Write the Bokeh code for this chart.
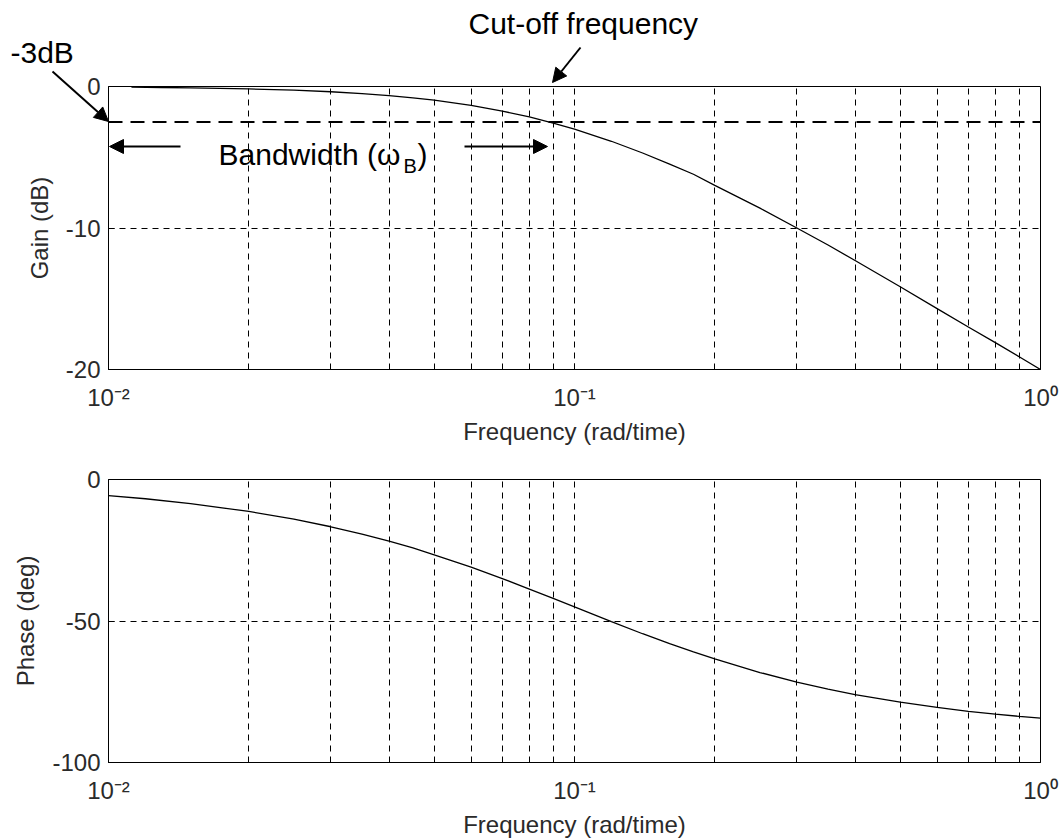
from bokeh.plotting import figure
from bokeh.models import Range1d, FixedTicker, Arrow, NormalHead, Label
from bokeh.layouts import column
from bokeh.embed import file_html
from bokeh.resources import INLINE

# ---- data ----
freq_gain = [0.0112, 0.013, 0.015, 0.02, 0.025, 0.03, 0.035, 0.04, 0.045, 0.05,
             0.06, 0.07, 0.08, 0.09, 0.1, 0.12, 0.14, 0.16, 0.18, 0.2,
             0.25, 0.3, 0.35, 0.4, 0.5, 0.6, 0.7, 0.8, 0.9, 1.0]
gain_db = [-0.05, -0.07, -0.10, -0.17, -0.26, -0.37, -0.50, -0.64, -0.80, -0.97,
           -1.34, -1.74, -2.15, -2.58, -3.01, -3.87, -4.70, -5.48, -6.20, -6.99,
           -8.6, -10.0, -11.2, -12.3, -14.15, -15.7, -17.0, -18.1, -19.1, -20.0]

freq_phase = [0.01, 0.012, 0.015, 0.02, 0.025, 0.03, 0.035, 0.04, 0.045, 0.05,
              0.06, 0.07, 0.08, 0.09, 0.1, 0.12, 0.14, 0.16, 0.18, 0.2,
              0.25, 0.3, 0.35, 0.4, 0.5, 0.6, 0.7, 0.8, 0.9, 1.0]
phase_deg = [-5.7, -6.8, -8.5, -11.3, -14.0, -16.7, -19.3, -21.8, -24.2, -26.6,
             -31.0, -35.0, -38.7, -42.0, -45.0, -50.2, -54.5, -58.0, -60.9, -63.4,
             -68.2, -71.6, -74.1, -76.0, -78.7, -80.5, -81.9, -82.9, -83.7, -84.3]

x_major = [0.01, 0.1, 1.0]
x_major_labels = ["10\u207b\u00b2", "10\u207b\u00b9", "10\u2070"]
x_minor = [0.02, 0.03, 0.04, 0.05, 0.06, 0.07, 0.08, 0.09,
           0.2, 0.3, 0.4, 0.5, 0.6, 0.7, 0.8, 0.9]
gain_ticks = [0, -10, -20]
gain_tick_labels = ["0", "-10", "-20"]
phase_ticks = [0, -50, -100]
phase_tick_labels = ["0", "-50", "-100"]
cutoff_level = -2.5

FONT = "Liberation Sans"
TXT = "#2a2a2a"
DASH = "6 5"

# ---- layout (pixels) ----
W = 1060
FX0, FX1 = 108, 1040          # plot box left/right
TOP_H = 449                   # height of the upper figure
G_TOP, G_BOT = 86, 369        # upper plot box top/bottom
DEC_PX = (FX1 - FX0) / 2.0    # pixels per decade


def make_fig(border_top, border_bottom, yticks, ylabels, ylabel):
    p = figure(x_axis_type="log", x_range=Range1d(x_major[0], x_major[-1]),
               y_range=Range1d(yticks[-1], yticks[0]),
               frame_width=FX1 - FX0, frame_height=G_BOT - G_TOP,
               min_border_left=FX0, min_border_right=W - FX1,
               min_border_top=border_top, min_border_bottom=border_bottom,
               output_backend="svg", toolbar_location=None)
    p.background_fill_color = "white"
    p.border_fill_color = "white"
    p.outline_line_color = "black"
    p.outline_line_width = 1

    p.xaxis.ticker = FixedTicker(ticks=x_major, minor_ticks=x_minor)
    p.xaxis.major_label_overrides = {v: s for v, s in zip(x_major, x_major_labels)}
    p.yaxis.ticker = FixedTicker(ticks=yticks)
    p.yaxis.major_label_overrides = {v: s for v, s in zip(yticks, ylabels)}
    for ax in (p.xaxis[0], p.yaxis[0]):
        ax.axis_line_color = "black"
        ax.major_tick_line_color = "black"
        ax.minor_tick_line_color = "black"
        ax.major_tick_in = 6
        ax.major_tick_out = 0
        ax.minor_tick_in = 3
        ax.minor_tick_out = 0
        ax.major_label_text_font = FONT
        ax.major_label_text_font_size = "24px"
        ax.major_label_text_color = TXT
        ax.axis_label_text_font = FONT
        ax.axis_label_text_font_size = "24px"
        ax.axis_label_text_font_style = "normal"
        ax.axis_label_text_color = TXT
    p.xaxis.major_label_standoff = 14
    p.xaxis.axis_label_standoff = 4
    p.yaxis.major_label_standoff = 8
    p.yaxis.axis_label_standoff = 10
    p.xaxis.axis_label = "Frequency (rad/time)"
    p.yaxis.axis_label = ylabel

    p.xgrid.grid_line_color = "black"
    p.xgrid.grid_line_dash = DASH
    p.xgrid.grid_line_width = 1
    p.xgrid.minor_grid_line_color = "black"
    p.xgrid.minor_grid_line_dash = DASH
    p.xgrid.minor_grid_line_width = 1
    p.ygrid.grid_line_color = "black"
    p.ygrid.grid_line_dash = DASH
    p.ygrid.grid_line_width = 1
    return p


# ---- top: gain ----
p1 = make_fig(G_TOP, TOP_H - G_BOT, gain_ticks, gain_tick_labels, "Gain (dB)")
p1.segment(x0=[x_major[0]], y0=[cutoff_level], x1=[x_major[-1]], y1=[cutoff_level],
           line_color="black", line_width=2, line_dash="14 8")
p1.line(freq_gain, gain_db, line_color="black", line_width=1.3)

# ---- transparent overlay over the upper figure, for the annotations ----
OV_W = FX1                     # overlay covers x = 0 .. 1040
px_per_db = (G_BOT - G_TOP) / float(gain_ticks[0] - gain_ticks[-1])
y_top = gain_ticks[0] + G_TOP / px_per_db
y_bot = gain_ticks[0] - (TOP_H - G_TOP) / px_per_db
x_lo = 10 ** (-2 - FX0 / DEC_PX)
x_hi = 10 ** (-2 + (OV_W - FX0) / DEC_PX)

p0 = figure(x_axis_type="log", x_range=Range1d(x_lo, x_hi),
            y_range=Range1d(y_bot, y_top),
            x_axis_location=None, y_axis_location=None, title=None,
            frame_width=OV_W, frame_height=TOP_H,
            min_border_left=0, min_border_right=0, min_border_top=0,
            min_border_bottom=0, output_backend="svg", toolbar_location=None)
p0.outline_line_color = None
p0.background_fill_alpha = 0
p0.border_fill_alpha = 0
p0.xgrid.visible = False
p0.ygrid.visible = False
p0.styles = {"margin-top": "-%dpx" % TOP_H, "margin-left": "-%dpx" % FX0}


def gx(px):
    return 10 ** (-2 + (px - FX0) / DEC_PX)


def gy(py):
    return gain_ticks[0] - (py - G_TOP) / px_per_db


def arrow(x0, y0, x1, y1):
    p0.add_layout(Arrow(end=NormalHead(size=14, fill_color="black", line_color="black"),
                        x_start=gx(x0), y_start=gy(y0), x_end=gx(x1), y_end=gy(y1),
                        line_color="black", line_width=2))


arrow(52, 71, 108, 121)
arrow(580, 47, 552, 82)
arrow(180, 146, 109, 146)
arrow(464, 146, 547, 146)

LBL_DY = -10


def label(px, py, text, size):
    p0.add_layout(Label(x=gx(px), y=gy(py + LBL_DY), text=text, text_font=FONT,
                        text_font_size=size, text_color="black",
                        text_baseline="alphabetic", text_align="left"))


label(10, 62, "-3dB", "30px")
label(468, 33, "Cut-off frequency", "30px")
label(218, 164, "Bandwidth (\u03c9", "30px")
label(403, 175, "B", "20px")
label(417, 164, ")", "30px")

# ---- bottom: phase ----
p2 = make_fig(479 - TOP_H, 838 - 762, phase_ticks, phase_tick_labels, "Phase (deg)")
p2.line(freq_phase, phase_deg, line_color="black", line_width=1.3)

layout = column(p1, p0, p2, spacing=0)
open("out.html", "w").write(file_html(layout, INLINE))
